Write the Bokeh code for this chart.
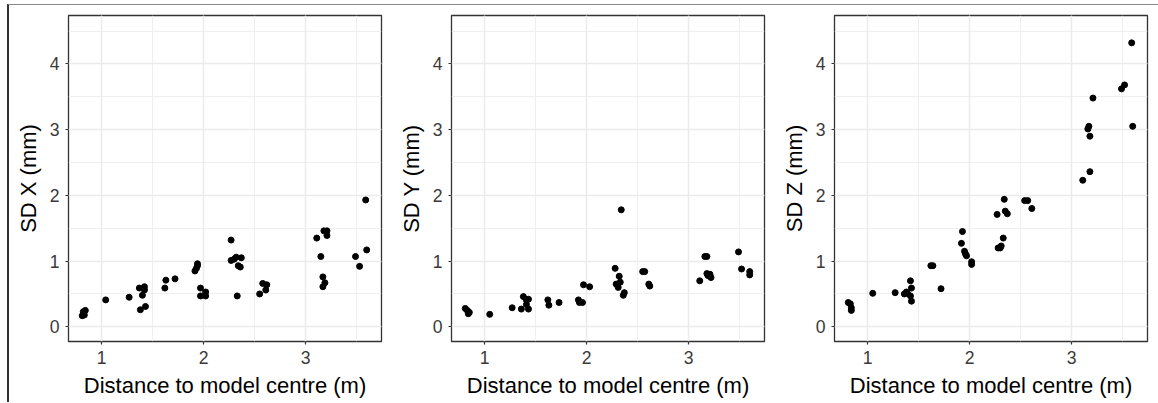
from bokeh.plotting import figure
from bokeh.layouts import row
from bokeh.models import Range1d, SingleIntervalTicker, ColumnDataSource
from bokeh.embed import file_html
from bokeh.resources import INLINE

x_title = "Distance to model centre (m)"
y_titles = ["SD X (mm)", "SD Y (mm)", "SD Z (mm)"]

dist_x = [0.81, 0.83, 0.84, 0.82, 1.04, 1.27, 1.37, 1.38, 1.40, 1.42, 1.42, 1.43,
          1.62, 1.63, 1.72, 1.915, 1.93, 1.94, 1.94, 1.97, 1.97, 2.02, 2.02,
          2.27, 2.27, 2.30, 2.32, 2.33, 2.34, 2.36, 2.37, 2.55, 2.58, 2.61, 2.62,
          3.11, 3.15, 3.17, 3.17, 3.19, 3.18, 3.21, 3.21, 3.49, 3.53, 3.59, 3.60]
sd_x = [0.17, 0.18, 0.25, 0.23, 0.41, 0.45, 0.59, 0.26, 0.48, 0.61, 0.56, 0.31,
        0.59, 0.71, 0.73, 0.85, 0.89, 0.93, 0.96, 0.59, 0.47, 0.53, 0.47,
        1.32, 1.01, 1.03, 1.06, 0.47, 0.93, 0.91, 1.05, 0.50, 0.66, 0.56, 0.64,
        1.35, 1.07, 0.76, 0.61, 0.67, 1.46, 1.46, 1.39, 1.07, 0.92, 1.93, 1.17]

dist_y = [0.81, 0.83, 0.84, 0.85, 1.05, 1.27, 1.36, 1.38, 1.41, 1.43, 1.43, 1.41,
          1.62, 1.63, 1.73, 1.92, 1.93, 1.96, 1.97, 2.03,
          2.28, 2.29, 2.31, 2.32, 2.33, 2.34, 2.36, 2.37, 2.55, 2.57, 2.61, 2.62,
          3.11, 3.16, 3.18, 3.18, 3.19, 3.21, 3.22, 3.49, 3.52, 3.60, 3.60]
sd_y = [0.28, 0.25, 0.20, 0.22, 0.19, 0.29, 0.27, 0.46, 0.41, 0.42, 0.27, 0.34,
        0.41, 0.33, 0.37, 0.41, 0.37, 0.37, 0.64, 0.61,
        0.89, 0.65, 0.60, 0.77, 0.68, 1.78, 0.48, 0.52, 0.84, 0.84, 0.65, 0.62,
        0.70, 1.07, 1.07, 0.81, 0.78, 0.80, 0.75, 1.14, 0.88, 0.84, 0.79]

dist_z = [0.81, 0.83, 0.84, 0.84, 1.05, 1.27, 1.36, 1.38, 1.39, 1.42, 1.43, 1.42, 1.43,
          1.62, 1.64, 1.72, 1.92, 1.93, 1.95, 1.96, 1.97, 2.02, 2.02,
          2.27, 2.28, 2.30, 2.31, 2.33, 2.34, 2.35, 2.37, 2.54, 2.57, 2.61,
          3.11, 3.16, 3.17, 3.18, 3.18, 3.21, 3.49, 3.52, 3.59, 3.60]
sd_z = [0.37, 0.35, 0.25, 0.29, 0.51, 0.52, 0.50, 0.53, 0.51, 0.70, 0.59, 0.47, 0.39,
        0.93, 0.93, 0.58, 1.27, 1.45, 1.15, 1.11, 1.08, 0.99, 0.95,
        1.71, 1.20, 1.20, 1.23, 1.35, 1.94, 1.76, 1.72, 1.92, 1.92, 1.80,
        2.23, 3.01, 3.05, 2.36, 2.90, 3.48, 3.62, 3.68, 4.32, 3.05]

FONT = "Liberation Sans"


def make_panel(xs, ys, ytitle, width, left, right):
    p = figure(width=width, height=397, output_backend="svg", toolbar_location=None,
               x_range=Range1d(0.675, 3.745), y_range=Range1d(-0.223, 4.736),
               min_border_left=left, min_border_right=right,
               min_border_top=10, min_border_bottom=61,
               background_fill_color="white", border_fill_color="white")
    p.outline_line_color = "#333333"
    p.outline_line_width = 1.3
    p.xaxis.ticker = SingleIntervalTicker(interval=1, num_minor_ticks=2)
    p.yaxis.ticker = SingleIntervalTicker(interval=1, num_minor_ticks=2)
    for ax in (p.xaxis[0], p.yaxis[0]):
        ax.axis_line_color = None
        ax.major_tick_in = 0
        ax.major_tick_out = 3
        ax.major_tick_line_color = "#333333"
        ax.major_tick_line_width = 1.2
        ax.minor_tick_in = 0
        ax.minor_tick_out = 0
        ax.major_label_text_font = FONT
        ax.major_label_text_font_size = "17.6px"
        ax.major_label_text_color = "#3a3a3a"
        ax.axis_label_text_font = FONT
        ax.axis_label_text_font_size = "22px"
        ax.axis_label_text_font_style = "normal"
        ax.axis_label_text_color = "black"
        ax.major_label_standoff = 6
        ax.axis_label_standoff = 6
    p.xaxis.axis_label = x_title
    p.yaxis.axis_label = ytitle
    for g in (p.xgrid[0], p.ygrid[0]):
        g.grid_line_color = "#EBEBEB"
        g.grid_line_width = 1.5
        g.minor_grid_line_color = "#EBEBEB"
        g.minor_grid_line_width = 0.8
    src = ColumnDataSource(dict(x=xs, y=ys))
    p.scatter("x", "y", source=src, size=6, color="black", line_color="black")
    return p


p1 = make_panel(dist_x, sd_x, y_titles[0], 383, 59, 11)
p2 = make_panel(dist_y, sd_y, y_titles[1], 383, 59, 11)
p3 = make_panel(dist_z, sd_z, y_titles[2], 383, 59, 11)

layout = row(p1, p2, p3,
             styles={"margin-top": "4px", "margin-left": "7px",
                     "border-top": "1px solid #8a8a8a",
                     "border-left": "2px solid #333333"})
open("out.html", "w").write(file_html(layout, INLINE))
